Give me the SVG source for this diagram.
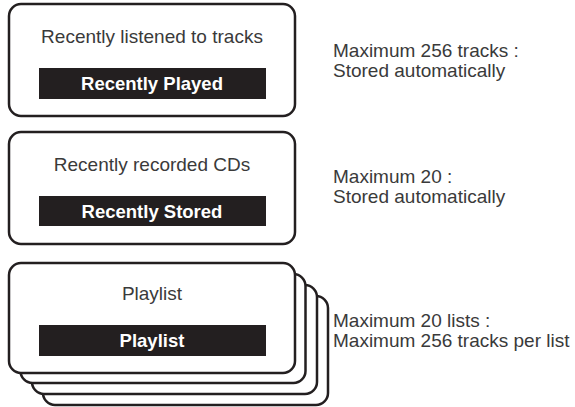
<svg xmlns="http://www.w3.org/2000/svg" width="575" height="407" viewBox="0 0 575 407">
<style>
.box{fill:#fff;stroke:#231f20;stroke-width:2.5}
.bar{fill:#231f20}
.t{font-family:"Liberation Sans",Arial,sans-serif;font-size:19px;fill:#3a3a3a}
.c{text-anchor:middle}
.b{font-family:"Liberation Sans",Arial,sans-serif;font-size:18.5px;font-weight:bold;fill:#fff;text-anchor:middle}
</style>
<g id="recently-played">
<rect class="box" x="9" y="4" width="286" height="112" rx="12"/>
<text class="t c" x="152" y="43">Recently listened to tracks</text>
<rect class="bar" x="39" y="68" width="227" height="31"/>
<text class="b" x="152" y="89.5">Recently Played</text>
</g>
<g id="recently-stored">
<rect class="box" x="9" y="132" width="286" height="112" rx="12"/>
<text class="t c" x="152" y="171">Recently recorded CDs</text>
<rect class="bar" x="39" y="196" width="227" height="30"/>
<text class="b" x="152" y="217.5">Recently Stored</text>
</g>
<g id="playlist">
<rect class="box" x="43" y="296" width="285" height="109" rx="12"/>
<rect class="box" x="32" y="285" width="285" height="109" rx="12"/>
<rect class="box" x="20.5" y="274" width="285" height="109" rx="12"/>
<rect class="box" x="9" y="263" width="286" height="110" rx="12"/>
<text class="t c" x="152" y="300">Playlist</text>
<rect class="bar" x="39" y="325" width="227" height="31"/>
<text class="b" x="152" y="347">Playlist</text>
</g>
<g id="notes">
<text class="t" x="333" y="57">Maximum 256 tracks :</text>
<text class="t" x="333" y="77">Stored automatically</text>
<text class="t" x="333" y="183">Maximum 20 :</text>
<text class="t" x="333" y="203">Stored automatically</text>
<text class="t" x="333" y="327">Maximum 20 lists :</text>
<text class="t" x="333" y="347">Maximum 256 tracks per list</text>
</g>
<g id="connectors"></g>
</svg>
